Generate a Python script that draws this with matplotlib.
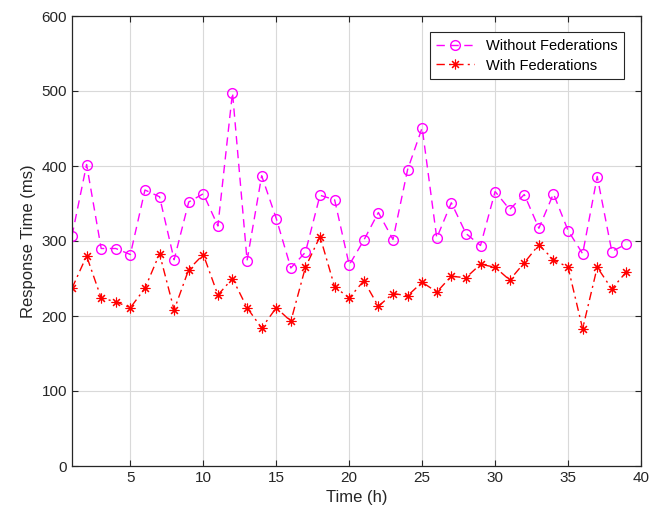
import numpy as np
import matplotlib
matplotlib.use('Agg')
import matplotlib.pyplot as plt

plt.rcParams['font.family'] = ['Liberation Sans', 'DejaVu Sans']

# Tiempo de medición (horas)
horas = np.arange(1, 40)

# Tiempo de respuesta sin federaciones (ms)
sin_fed = [307, 402, 290, 290, 282, 368, 359, 275, 352, 363,
           320, 498, 274, 387, 330, 264, 285, 361, 355, 268,
           301, 338, 302, 395, 451, 304, 351, 310, 294, 366,
           342, 362, 317, 363, 314, 283, 386, 286, 296]

# Tiempo de respuesta con federaciones (ms)
con_fed = [237, 280, 224, 219, 211, 237, 283, 208, 262, 282,
           228, 250, 211, 184, 211, 193, 265, 306, 239, 224,
           247, 213, 230, 227, 245, 232, 253, 251, 269, 265,
           248, 271, 295, 275, 265, 183, 265, 236, 259]

etiquetas = ['Without Federations', 'With Federations']

fig = plt.figure(figsize=(6.51, 5.23), dpi=100)
ax = fig.add_axes([72 / 651, 1 - 466 / 523, 569 / 651, 450 / 523])

ax.plot(horas, sin_fed, color='#ff00ff', linestyle=(0, (6, 4)), linewidth=1,
        marker='o', markersize=7, markerfacecolor='none', markeredgecolor='#ff00ff',
        markeredgewidth=1, label=etiquetas[0])
ax.plot(horas, con_fed, color='#ff0000', linestyle=(0, (6, 3, 1.5, 3)), linewidth=1,
        marker=(8, 2, 0), markersize=7, markeredgewidth=0.8, label=etiquetas[1])

ax.set_xlim(1, 40)
ax.set_ylim(0, 600)
ax.set_xticks(np.arange(5, 41, 5))
ax.set_yticks(np.arange(0, 601, 100))

ax.grid(True, color='#d9d9d9', linewidth=0.8)
ax.set_axisbelow(True)
ax.tick_params(direction='in', top=True, right=True, labelsize=11,
               labelcolor='#262626', color='#262626', length=4)
for lado in ax.spines.values():
    lado.set_color('#262626')
    lado.set_linewidth(0.9)

ax.set_xlabel('Time (h)', fontsize=12, color='#262626')
ax.set_ylabel('Response Time (ms)', fontsize=12, color='#262626')

leg = ax.legend(loc='upper right', bbox_to_anchor=(0.97, 0.964), borderaxespad=0,
                fontsize=10.5, fancybox=False, edgecolor='#262626', framealpha=1,
                handlelength=2.6, borderpad=0.45, labelspacing=0.4)
leg.get_frame().set_linewidth(0.8)

fig.savefig('out.png', dpi=100)
